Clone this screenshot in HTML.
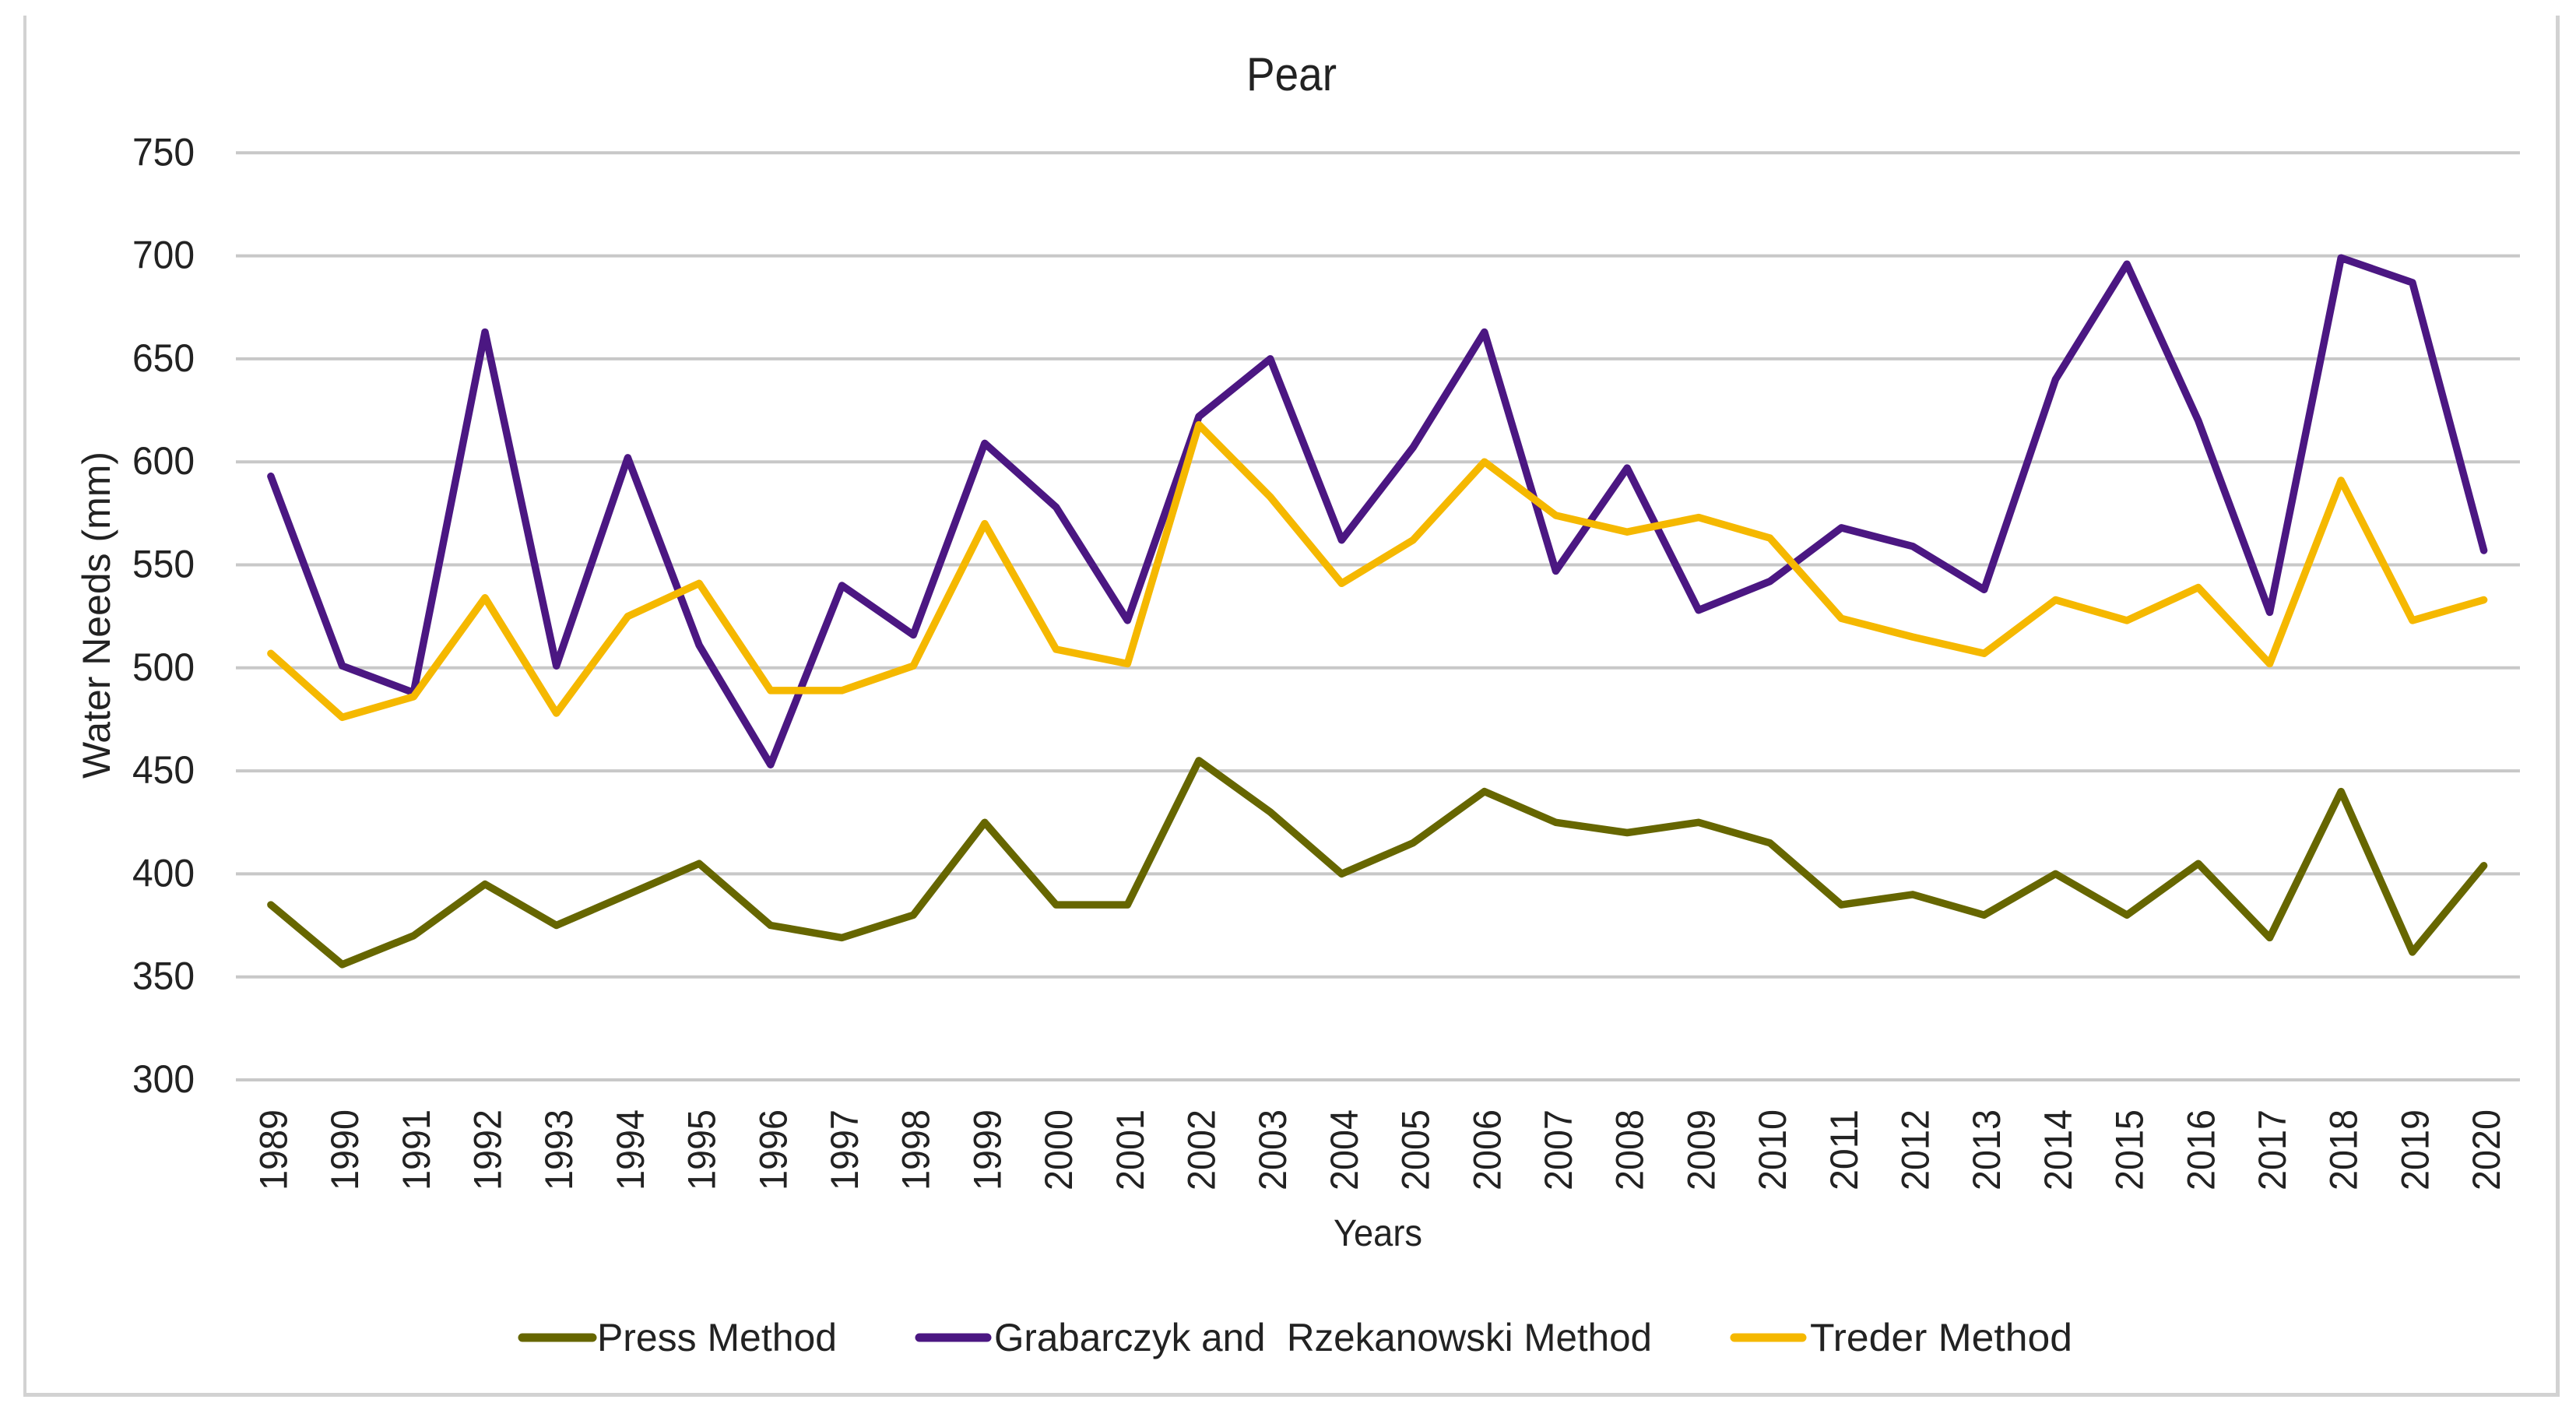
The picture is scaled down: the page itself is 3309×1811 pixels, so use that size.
<!DOCTYPE html>
<html lang="en">
<head>
<meta charset="utf-8">
<title>Pear - Water Needs</title>
<style>
html,body{margin:0;padding:0;background:#fff;width:3309px;height:1811px;overflow:hidden}
svg{display:block}
text{font-family:"Liberation Sans",sans-serif;fill:#222;white-space:pre}
</style>
</head>
<body>
<svg id="chart" xmlns="http://www.w3.org/2000/svg" width="3309" height="1811" viewBox="0 0 3309 1811">
  <rect x="0" y="0" width="3309" height="1811" fill="#ffffff"/>
  <rect x="30" y="20" width="4" height="1774" fill="#d2d2d2"/>
  <rect x="3283" y="20" width="5" height="1774" fill="#d2d2d2"/>
  <rect x="30" y="1789" width="3258" height="5" fill="#d2d2d2"/>
  <text x="1601" y="116" font-size="60" textLength="116" lengthAdjust="spacingAndGlyphs">Pear</text>
  <text transform="translate(141,1000) rotate(-90)" font-size="50" textLength="420" lengthAdjust="spacingAndGlyphs">Water Needs (mm)</text>
  <text x="1713" y="1600" font-size="48" textLength="114" lengthAdjust="spacingAndGlyphs">Years</text>
  <g id="grid"></g>
  <g id="yticks"></g>
  <g id="xticks"></g>
  <g id="series"></g>
  <g>
    <g>
      <line x1="671" y1="1718" x2="761" y2="1718" stroke="#666600" stroke-width="11" stroke-linecap="round"/>
      <text x="767" y="1735" font-size="50" textLength="308" lengthAdjust="spacingAndGlyphs">Press Method</text>
    </g>
    <g>
      <line x1="1181" y1="1718" x2="1268" y2="1718" stroke="#4b1782" stroke-width="11" stroke-linecap="round"/>
      <text x="1277" y="1735" font-size="50" textLength="845" lengthAdjust="spacingAndGlyphs" xml:space="preserve">Grabarczyk and  Rzekanowski Method</text>
    </g>
    <g>
      <line x1="2228" y1="1718" x2="2315" y2="1718" stroke="#f5b800" stroke-width="11" stroke-linecap="round"/>
      <text x="2325" y="1735" font-size="50" textLength="337" lengthAdjust="spacingAndGlyphs">Treder Method</text>
    </g>
  </g>
</svg>
<script>
const years = [1989,1990,1991,1992,1993,1994,1995,1996,1997,1998,1999,2000,2001,2002,2003,2004,2005,2006,2007,2008,2009,2010,2011,2012,2013,2014,2015,2016,2017,2018,2019,2020];
const yTicks = [300,350,400,450,500,550,600,650,700,750];
const pressValues = [385,356,370,395,375,390,405,375,369,380,425,385,385,455,430,400,415,440,425,420,425,415,385,390,380,400,380,405,369,440,362,404];
const grabarczykValues = [593,501,488,663,501,602,511,453,540,516,609,578,523,622,650,562,607,663,547,597,528,542,568,559,538,640,696,620,527,699,687,557];
const trederValues = [507,476,486,534,478,525,541,489,489,501,570,509,502,618,583,541,562,600,574,566,573,563,524,515,507,533,523,539,502,591,523,533];

const NS = 'http://www.w3.org/2000/svg';
function xScale(i){ return 347.9 + i * 91.7; }
function yScale(v){ return 328.6 + (700 - v) * 2.646; }

const gridG = document.getElementById('grid');
const yTickG = document.getElementById('yticks');
const xTickG = document.getElementById('xticks');
const seriesG = document.getElementById('series');

yTicks.forEach(function(t){
  const l = document.createElementNS(NS,'line');
  
  
  l.setAttribute('x1', 303);
  l.setAttribute('x2', 3237);
  l.setAttribute('y1', yScale(t));
  l.setAttribute('y2', yScale(t));
  l.setAttribute('stroke', '#c8c8c8');
  l.setAttribute('stroke-width', 4);
  gridG.appendChild(l);

  const txt = document.createElementNS(NS,'text');
  
  
  txt.setAttribute('x', 170);
  txt.setAttribute('y', yScale(t) + 16);
  txt.setAttribute('font-size', 50);
  txt.setAttribute('textLength', 80);
  txt.setAttribute('lengthAdjust', 'spacingAndGlyphs');
  txt.textContent = String(t);
  yTickG.appendChild(txt);
});

years.forEach(function(y,i){
  const txt = document.createElementNS(NS,'text');
  
  
  txt.setAttribute('transform', 'translate(' + (xScale(i) + 20.5) + ',1529) rotate(-90)');
  txt.setAttribute('font-size', 50);
  txt.setAttribute('textLength', 104);
  txt.setAttribute('lengthAdjust', 'spacingAndGlyphs');
  txt.textContent = String(y);
  xTickG.appendChild(txt);
});

function drawSeries(values, color, name){
  const pts = values.map(function(v,i){ return xScale(i).toFixed(1) + ',' + yScale(v).toFixed(1); }).join(' ');
  const p = document.createElementNS(NS,'polyline');
  
  
  p.setAttribute('points', pts);
  p.setAttribute('fill', 'none');
  p.setAttribute('stroke', color);
  p.setAttribute('stroke-width', 9.5);
  p.setAttribute('stroke-linecap', 'round');
  p.setAttribute('stroke-linejoin', 'round');
  seriesG.appendChild(p);
}
drawSeries(pressValues, '#666600', 'press-method-line');
drawSeries(grabarczykValues, '#4b1782', 'grabarczyk-method-line');
drawSeries(trederValues, '#f5b800', 'treder-method-line');
</script>
</body>
</html>
